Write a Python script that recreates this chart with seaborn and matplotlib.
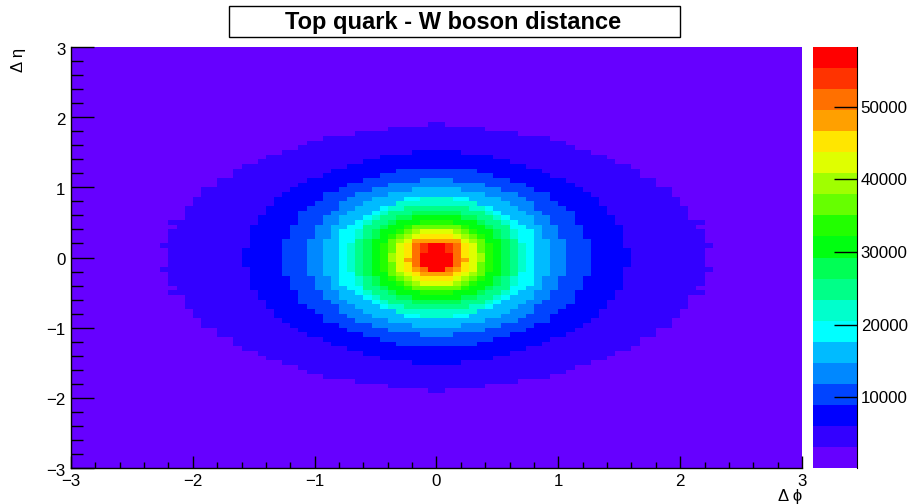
import matplotlib
matplotlib.use("Agg")
import matplotlib.pyplot as plt
import matplotlib.transforms as mtrans
import numpy as np
import seaborn as sns
from matplotlib.colors import BoundaryNorm, ListedColormap
from matplotlib.patches import Rectangle

sns.set_style("white")
plt.rcParams['font.family'] = ['Liberation Sans', 'DejaVu Sans']
plt.rcParams['text.color'] = 'black'
plt.rcParams['axes.axisbelow'] = False

title = "Top quark - W boson distance"
x_label = "\u0394 \u03d5"
y_label = "\u0394 \u03b7"
axis_ticks = [-3, -2, -1, 0, 1, 2, 3]
cbar_ticks = [10000, 20000, 30000, 40000, 50000]
z_min = 220
z_max = 58260

# palette bottom to top of the colour bar
band_colors = ["#6600ff", "#3300ff", "#0000ff", "#0044ff", "#0088ff", "#00bbff", "#00ffff",
               "#00ffcc", "#00ff88", "#00ff55", "#00ff11", "#22ff00", "#66ff00", "#a0ff00",
               "#dfff00", "#ffe600", "#ffa000", "#ff7000", "#ff3300", "#ff0000"]

# half widths in bins of each contour, one entry per row away from eta = 0
level_01 = [33, 33, 34, 33, 33, 33, 32, 33, 31, 31, 31, 30, 30, 29, 29, 27, 27, 25, 25, 24, 22, 21, 19, 17, 16, 14, 10, 6, 1]
level_02 = [24, 24, 23, 23, 23, 23, 23, 22, 22, 21, 21, 20, 20, 19, 18, 17, 16, 14, 13, 11, 9, 7, 3]
level_03 = [19, 19, 19, 19, 18, 18, 18, 17, 17, 17, 16, 15, 14, 14, 12, 11, 9, 7, 5]
level_04 = [16, 16, 16, 16, 15, 15, 15, 14, 14, 13, 12, 12, 11, 10, 8, 6, 2]
level_05 = [14, 14, 14, 14, 13, 13, 13, 12, 12, 11, 10, 9, 8, 6, 3]
level_06 = [12, 12, 12, 12, 12, 12, 11, 10, 9, 8, 7, 5, 4]
level_07 = [11, 11, 11, 10, 10, 10, 9, 9, 8, 7, 6, 5, 2]
level_08 = [10, 10, 10, 10, 9, 9, 9, 8, 7, 6, 4]
level_09 = [9, 9, 9, 9, 8, 8, 7, 6, 5, 3]
level_10 = [8, 8, 8, 8, 7, 7, 6, 5, 3]
level_11 = [7, 7, 7, 6, 6, 5, 4, 2]
level_12 = [6, 6, 6, 6, 5, 4, 3]
level_13 = [6, 5, 5, 5, 4, 3]
level_14 = [5, 5, 5, 4, 3, 2]
level_15 = [4, 4, 4, 3, 2]
level_16 = [3, 3, 3, 3]
level_17 = [3, 3, 3]
level_18 = [2, 2, 2]
level_19 = [2, 1, 1]
# the peak is not the same on the lower side
level_16_low = [4, 3, 3, 2]
level_17_low = [3, 3, 2]
level_18_low = [2, 2, 1]
level_19_low = [2, 2, 1]

levels_up = [level_01, level_02, level_03, level_04, level_05, level_06, level_07, level_08, level_09, level_10,
             level_11, level_12, level_13, level_14, level_15, level_16, level_17, level_18, level_19]
levels_low = levels_up[:15] + [level_16_low, level_17_low, level_18_low, level_19_low]

n_bins = 90
edges = np.linspace(z_min, z_max, len(band_colors) + 1)
centres = (edges[:-1] + edges[1:]) / 2

# Monta a matriz do histograma
counts = np.full((n_bins, n_bins), centres[0])
for i, widths in enumerate(levels_up):
    for r, h in enumerate(widths):
        counts[44 - r, 45 - h:45 + h] = centres[i + 1]
for i, widths in enumerate(levels_low):
    for r, h in enumerate(widths):
        counts[45 + r, 45 - h:45 + h] = centres[i + 1]

W, H = 910, 504
fig = plt.figure(figsize=(W / 100, H / 100), dpi=100)
ax = fig.add_axes([71 / W, 1 - 468 / H, 731 / W, 421 / H])
cax = fig.add_axes([812.5 / W, 1 - 468 / H, 44 / W, 421 / H])

cmap = ListedColormap(band_colors)
norm = BoundaryNorm(edges, cmap.N)
sns.heatmap(counts, ax=ax, cbar_ax=cax, cmap=cmap, norm=norm, xticklabels=False, yticklabels=False,
            cbar_kws={"ticks": cbar_ticks})
ax.set_axisbelow(False)

tick_text = [str(t).replace("-", "\u2212") for t in axis_ticks]
minor = np.arange(-3, 3.01, 0.2)

ax.set_xticks([(t + 3) * 15 for t in axis_ticks])
ax.set_xticklabels(tick_text, fontsize=12.2)
ax.set_xticks((minor + 3) * 15, minor=True)
ax.set_yticks([(3 - t) * 15 for t in axis_ticks])
ax.set_yticklabels(tick_text, fontsize=12.2, rotation=0)
ax.set_yticks((3 - minor) * 15, minor=True)
ax.tick_params(axis="x", which="major", direction="in", bottom=True, length=8.6, width=1, color="black",
               labelcolor="black", pad=4)
ax.tick_params(axis="x", which="minor", direction="in", bottom=True, length=4.3, width=1, color="black")
ax.tick_params(axis="y", which="major", direction="in", left=True, length=16.5, width=1, color="black",
               labelcolor="black", pad=4)
ax.tick_params(axis="y", which="minor", direction="in", left=True, length=8.3, width=1, color="black")
for side in ["left", "bottom"]:
    ax.spines[side].set_visible(True)
    ax.spines[side].set_color("black")
    ax.spines[side].set_linewidth(1)

# os rotulos do eixo y ficam um pouco abaixo da marca
shift = mtrans.ScaledTranslation(0, -1.5 / 100, fig.dpi_scale_trans)
for label in ax.get_yticklabels():
    label.set_transform(label.get_transform() + shift)

cbar = ax.collections[0].colorbar
cbar.outline.set_visible(False)
cax.spines["right"].set_visible(True)
cax.spines["right"].set_color("black")
cax.minorticks_off()
cax.set_axisbelow(False)
cax.tick_params(axis="y", direction="in", right=True, length=16.5, width=1, color="black",
                labelcolor="black", labelsize=12.2, pad=3)
cax.set_yticks(cbar_ticks)

fig.add_artist(Rectangle((228.5 / W, 1 - 36.5 / H), 451 / W, 30 / H, transform=fig.transFigure,
                         facecolor="white", edgecolor="black", linewidth=1))
fig.text(453.5 / W, 1 - 22 / H, title, ha="center", va="center", fontsize=17, fontweight="bold")
fig.text(802 / W, 1 - 497 / H, x_label, ha="right", va="center", fontsize=12)
fig.text(18 / W, 1 - 48 / H, y_label, ha="center", va="top", fontsize=12, rotation=90)

fig.savefig("out.png", dpi=100)
